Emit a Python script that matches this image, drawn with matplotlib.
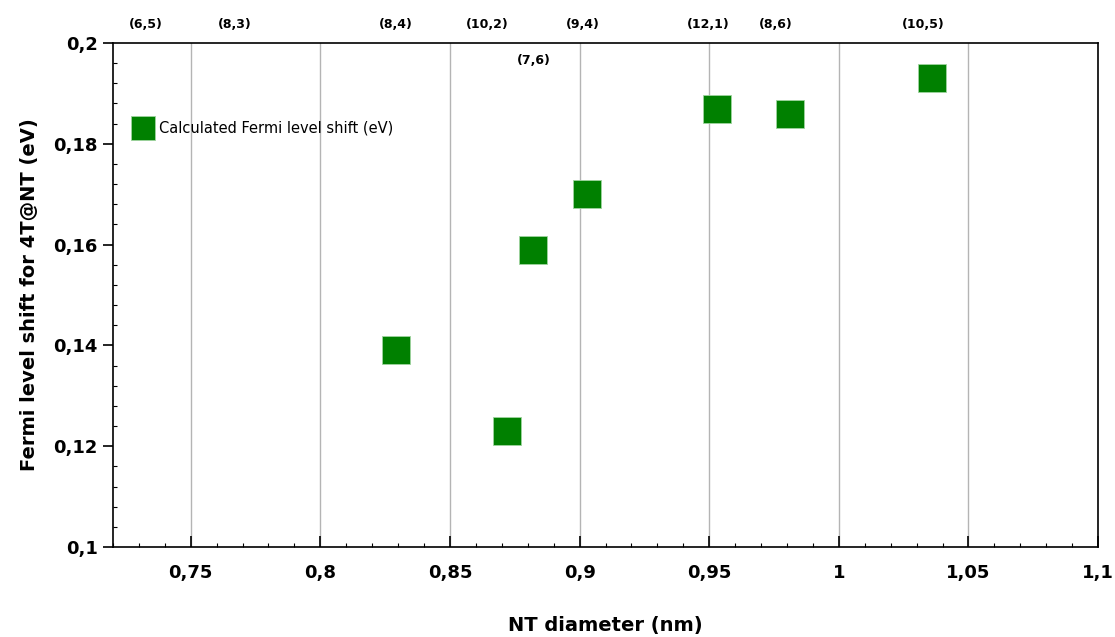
"""Fermi level shift of 4T@NT hybrids versus nanotube diameter."""

import matplotlib
matplotlib.use("Agg")
import matplotlib.pyplot as plt
from matplotlib.ticker import FuncFormatter, MultipleLocator

# --- Data ---
diameter_nm = [0.829, 0.872, 0.882, 0.903, 0.953, 0.981, 1.036]
fermi_shift_ev = [0.139, 0.123, 0.159, 0.170, 0.187, 0.186, 0.193]

chirality = ["(6,5)", "(8,3)", "(8,4)", "(10,2)", "(7,6)", "(9,4)", "(12,1)", "(8,6)", "(10,5)"]
chirality_x = [0.7327, 0.7671, 0.829, 0.8645, 0.8825, 0.9014, 0.9496, 0.9758, 1.0326]
chirality_row = [0, 0, 0, 0, 1, 0, 0, 0, 0]   # 1 = label sits just under the top frame

GREEN = "#008000"
GRID = "#b4b4b4"

fig = plt.figure(figsize=(11.15, 6.37), dpi=100)
ax = fig.add_axes([0.1013, 0.1413, 0.8835, 0.7912])

ax.plot(diameter_nm, fermi_shift_ev, ls="none", marker="s", ms=19.5,
        mfc=GREEN, mec="#9fd49f", mew=0.6, label="Calculated Fermi level shift (eV)",
        zorder=3)

ax.set_xlim(0.72, 1.1)
ax.set_ylim(0.1, 0.2)

comma = FuncFormatter(lambda v, _: ("%g" % round(v, 4)).replace(".", ","))
ax.xaxis.set_major_locator(MultipleLocator(0.05))
ax.xaxis.set_minor_locator(MultipleLocator(0.01))
ax.yaxis.set_major_locator(MultipleLocator(0.02))
ax.yaxis.set_minor_locator(MultipleLocator(0.004))
ax.xaxis.set_major_formatter(comma)
ax.yaxis.set_major_formatter(comma)

ax.tick_params(axis="x", which="major", direction="in", length=8, width=1.2,
               pad=12, labelsize=13)
ax.tick_params(axis="x", which="minor", direction="in", length=3, width=0.8)
ax.tick_params(axis="y", which="major", direction="out", length=7, width=1.2,
               pad=4, labelsize=13)
ax.tick_params(axis="y", which="minor", direction="in", length=3, width=0.8)
for lab in ax.get_xticklabels() + ax.get_yticklabels():
    lab.set_fontweight("bold")

ax.grid(axis="x", which="major", color=GRID, lw=1.0)
ax.set_axisbelow(True)
for sp in ax.spines.values():
    sp.set_linewidth(1.2)

ax.set_xlabel("NT diameter (nm)", fontsize=14, fontweight="bold", labelpad=25)
ax.set_ylabel("Fermi level shift for 4T@NT (eV)", fontsize=14, fontweight="bold",
              labelpad=10)

# chirality labels above the frame
trans = ax.get_xaxis_transform()
for lab, x, row in zip(chirality, chirality_x, chirality_row):
    y = 0.966 if row else 1.036
    ax.text(x, y, lab, transform=trans, ha="center", va="center",
            fontsize=9, fontweight="bold", clip_on=False)

ax.legend(loc="center left", bbox_to_anchor=(0.0234, 0.831), frameon=False,
          fontsize=10.5, markerscale=0.88, handlelength=1.0, handletextpad=0.6,
          borderaxespad=0.0, borderpad=0.0)

fig.savefig("out.png", dpi=100)
